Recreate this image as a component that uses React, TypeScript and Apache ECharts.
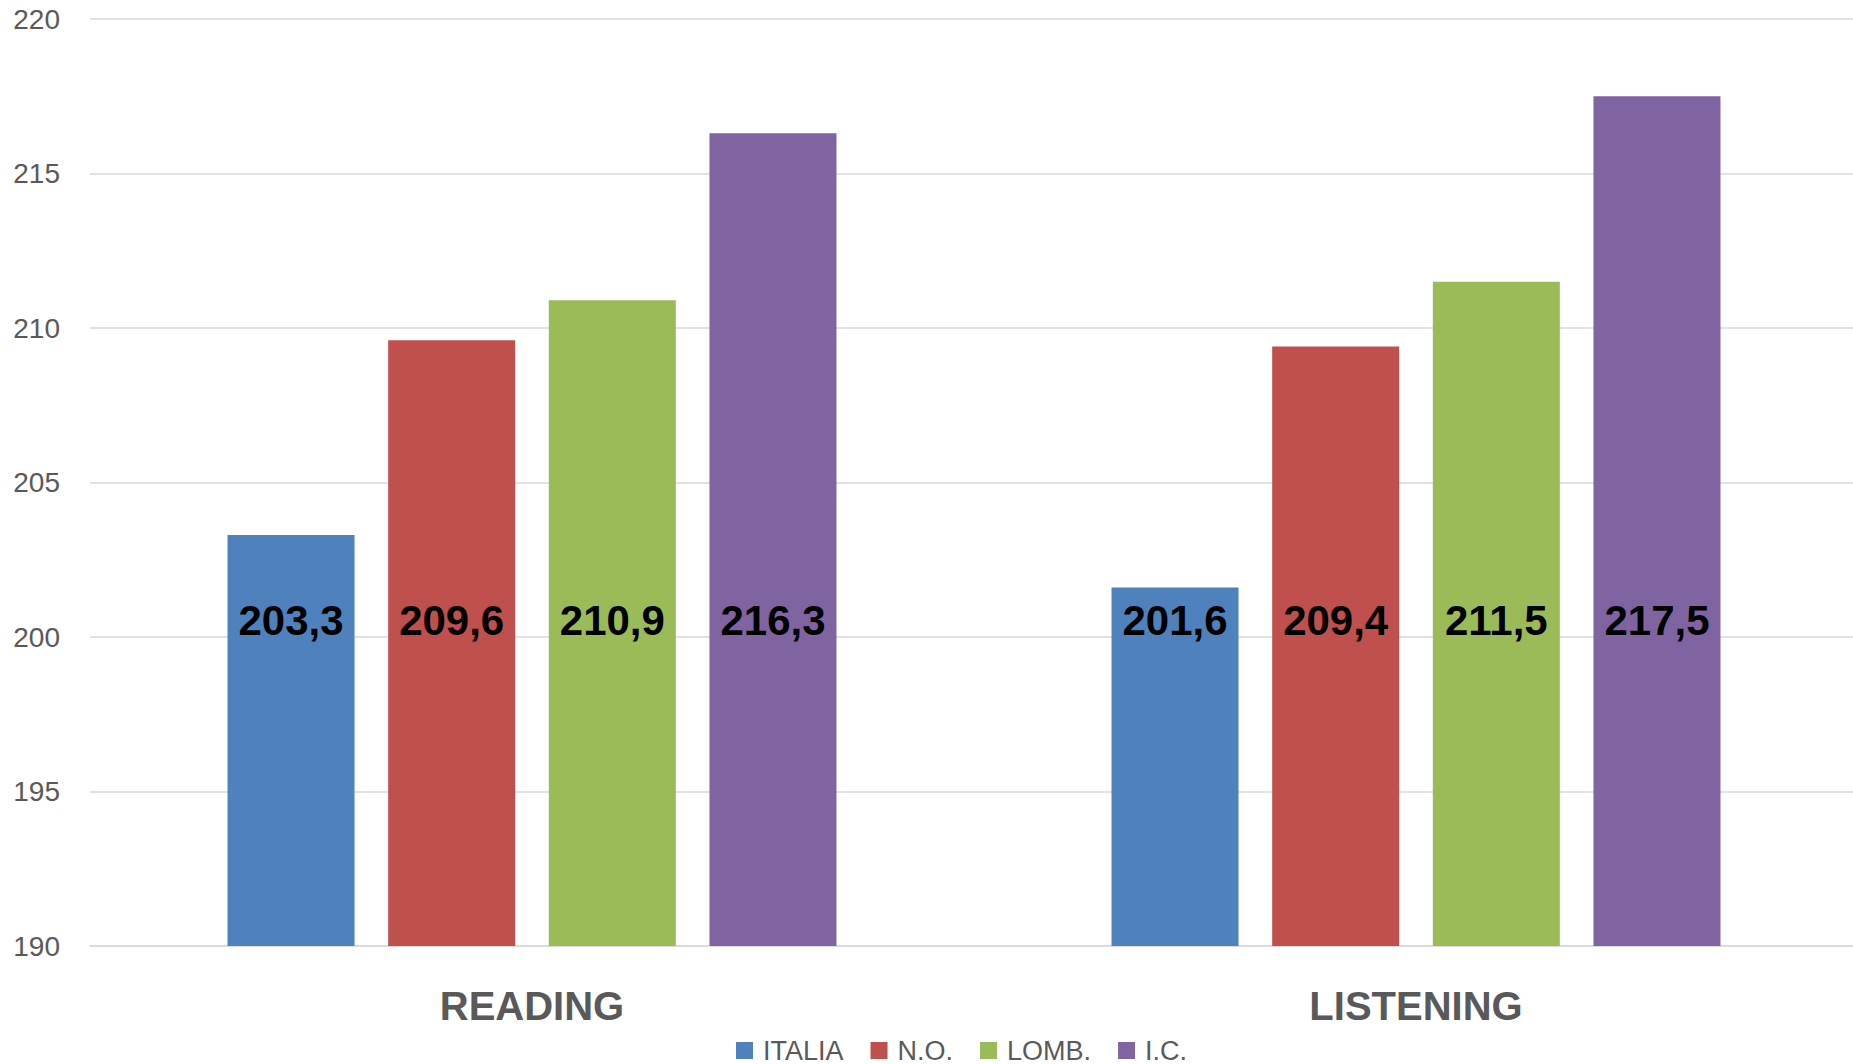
import React, { useEffect, useRef } from "react";
import * as echarts from "echarts";

const categories = ["READING", "LISTENING"];
const seriesNames = ["ITALIA", "N.O.", "LOMB.", "I.C."];
const italia = [203.3, 201.6];
const nordOvest = [209.6, 209.4];
const lombardia = [210.9, 211.5];
const istituto = [216.3, 217.5];
const seriesColors = ["#4F81BD", "#C0504D", "#9BBB59", "#8064A2"];
const yMin = 190;
const yMax = 220;
const yInterval = 5;

const FONT = "'Liberation Sans', Arial, sans-serif";

export default function App() {
  const ref = useRef<HTMLDivElement>(null);

  useEffect(() => {
    document.body.style.margin = "0";
    if (!ref.current) return;
    const chart = echarts.init(ref.current, null, { renderer: "svg" });
    const values = [italia, nordOvest, lombardia, istituto];
    const option = {
      animation: false,
      backgroundColor: "#FFFFFF",
      grid: {
        left: 90,
        right: -5,
        top: 19,
        bottom: 118,
        containLabel: false,
        outerBoundsMode: "none",
      },
      legend: {
        data: seriesNames,
        left: 736,
        top: 1037,
        padding: 0,
        itemWidth: 17,
        itemHeight: 17,
        itemGap: 27,
        icon: "rect",
        textStyle: {
          color: "#595959",
          fontSize: 27,
          lineHeight: 27,
          fontFamily: FONT,
          padding: [0, 0, 0, 5],
        },
      },
      xAxis: {
        type: "category",
        data: categories,
        axisLine: { show: true, lineStyle: { color: "#D9D9D9", width: 1.5 } },
        axisTick: { show: false },
        axisLabel: {
          color: "#595959",
          fontSize: 40,
          fontWeight: "bold",
          fontFamily: FONT,
          margin: 40,
        },
      },
      yAxis: {
        type: "value",
        min: yMin,
        max: yMax,
        interval: yInterval,
        axisLine: { show: false },
        axisTick: { show: false },
        splitLine: { lineStyle: { color: "#D9D9D9", width: 1.5 } },
        axisLabel: {
          color: "#595959",
          fontSize: 28,
          fontFamily: FONT,
          margin: 30,
        },
      },
      series: seriesNames.map((name, i) => ({
        name,
        type: "bar",
        data: values[i],
        barWidth: 127,
        barGap: "26.5%",
        itemStyle: { color: seriesColors[i] },
        label: {
          show: true,
          position: "insideBottom",
          distance: 0,
          verticalAlign: "middle",
          offset: [0, -326],
          color: "#000000",
          fontSize: 42,
          fontWeight: "bold",
          fontFamily: FONT,
          formatter: (p: any) => Number(p.value).toFixed(1).replace(".", ","),
        },
      })),
    };
    chart.setOption(option as any);
    return () => {
      chart.dispose();
    };
  }, []);

  return (
    <div
      ref={ref}
      style={{ position: "absolute", left: 0, top: 0, width: 1853, height: 1064 }}
    />
  );
}
